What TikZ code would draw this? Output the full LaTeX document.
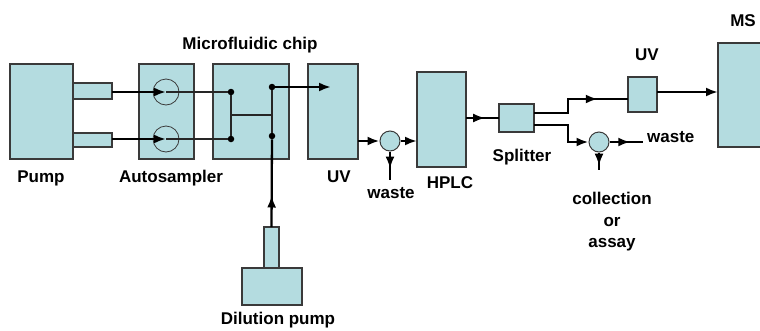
\documentclass[tikz,border=0pt]{standalone}
\usepackage{fontspec}
\setmainfont{Liberation Sans}
\usetikzlibrary{arrows.meta,decorations.markings,calc}
\definecolor{boxfill}{HTML}{B4DCE0}
\definecolor{boxline}{HTML}{3A3A3A}
\tikzset{
  unit/.style={draw=boxline, line width=1.1pt, fill=boxfill, inner sep=0pt, outer sep=0pt, anchor=north west},
  valve/.style={draw=boxline, line width=1pt, fill=boxfill, circle, inner sep=0pt, minimum size=20pt},
  ring/.style={draw=boxline, line width=0.8pt, circle, inner sep=0pt, minimum size=26pt},
  dot/.style={circle, fill=black, inner sep=0pt, minimum size=6.5pt},
  thick line/.style={line width=2.3pt, black},
  thin line/.style={line width=1.2pt, black!85},
  endarrow/.style={-{Latex[length=12pt,width=9pt]}},
  midarrow/.style={postaction={decorate}, decoration={markings, mark=at position #1 with {\arrow{Latex[length=12pt,width=9pt]}}}},
  lbl/.style={font=\fontsize{17}{20}\selectfont\bfseries, inner sep=0pt},
}
\begin{document}
\begin{tikzpicture}[x=1pt,y=-1pt]
\useasboundingbox (0,0) rectangle (760,330);
\clip (0,0) rectangle (760,330);
% boxes
\node[unit, minimum width=63pt, minimum height=95pt] (pump) at (10,64) {};
\node[unit, minimum width=39pt, minimum height=16pt] (out1) at (73,83) {};
\node[unit, minimum width=39pt, minimum height=14pt] (out2) at (73,133) {};
\node[unit, minimum width=55pt, minimum height=95pt] (auto) at (139,64) {};
\node[ring] (r1) at (166,92) {};
\node[ring] (r2) at (166,139) {};
\node[unit, minimum width=76pt, minimum height=95pt] (chip) at (213,64) {};
\node[unit, minimum width=50pt, minimum height=95pt] (uv) at (308,64) {};
\node[valve] (v1) at (390,141) {};
\node[unit, minimum width=49pt, minimum height=95pt] (hplc) at (417,72) {};
\node[unit, minimum width=35pt, minimum height=28pt] (split) at (499,104) {};
\node[unit, minimum width=29pt, minimum height=35pt] (uv2) at (628,77) {};
\node[unit, minimum width=60pt, minimum height=104pt] (ms) at (718,43) {};
\node[valve] (v2) at (599,142) {};
\node[unit, minimum width=15pt, minimum height=41pt] (dsmall) at (264,227) {};
\node[unit, minimum width=60pt, minimum height=37pt] (dbig) at (242,268) {};
% dots in chip
\node[dot] (a) at (231,92) {};
\node[dot] (b) at (231,139) {};
\node[dot] (c) at (272,87) {};
\node[dot] (d) at (272,136) {};
% free ends / bends
\coordinate (uvin) at (331,87);
\coordinate (hm1) at (231,115);
\coordinate (hm2) at (272,115);
\coordinate (w1) at (390,180);
\coordinate (s1) at (568,113);
\coordinate (s2) at (568,99);
\coordinate (s3) at (568,125);
\coordinate (s4) at (568,142);
\coordinate (w2) at (643,142);
\coordinate (w3) at (599,170);
% connectors
\draw[thick line, endarrow] (out1.east |- r1) -- (r1.center);
\draw[thick line, endarrow] (out2.east |- r2) -- (r2.center);
\draw[thin line] (r1.center) -- (a);
\draw[thin line] (r2.center) -- (b);
\draw[thin line] (a) -- (b);
\draw[thin line] (hm1) -- (hm2);
\draw[thin line] (c) -- (d);
\draw[thick line, midarrow=0.36] (dsmall.north) -- (d);
\draw[thick line, endarrow] (c) -- (uvin);
\draw[thick line, endarrow] (uv.east |- v1) -- (v1.west);
\draw[thick line, endarrow] (v1.east) -- (hplc.west |- v1);
\draw[thick line, midarrow=0.6] (v1.south) -- (w1);
\draw[thick line, midarrow=0.58] (hplc.east |- split) -- (split.west);
\draw[thick line, midarrow=0.72] (split.east |- s1) -- (s1) -- (s2) -- (uv2.west |- s2);
\draw[thick line, endarrow] (uv2.east |- 0,92) -- (ms.west |- 0,92);
\draw[thick line, endarrow] (split.east |- s3) -- (s3) -- (s4) -- (v2.west);
\draw[thick line, midarrow=0.62] (v2.east) -- (w2);
\draw[thick line, midarrow=0.75] (v2.south) -- (w3);
% labels
\node[lbl] (lchip) at (250,45) {Microfluidic chip};
\node[lbl] (lpump) at (41,178) {Pump};
\node[lbl] (lauto) at (171,178) {Autosampler};
\node[lbl] (luv) at (339,177) {UV};
\node[lbl] (lw1) at (391,193) {waste};
\node[lbl] (lhplc) at (450,183) {HPLC};
\node[lbl] (lsplit) at (522,157) {Splitter};
\node[lbl] (luv2) at (647,55) {UV};
\node[lbl] (lms) at (743,21) {MS};
\node[lbl, anchor=west] (lw2) at (647,137) {waste};
\node[lbl] (lcol) at (612,198) {collection};
\node[lbl] (lor) at (612,222) {or};
\node[lbl] (lassay) at (612,245) {assay};
\node[lbl] (ldil) at (278,320) {Dilution pump};
\end{tikzpicture}
\end{document}
